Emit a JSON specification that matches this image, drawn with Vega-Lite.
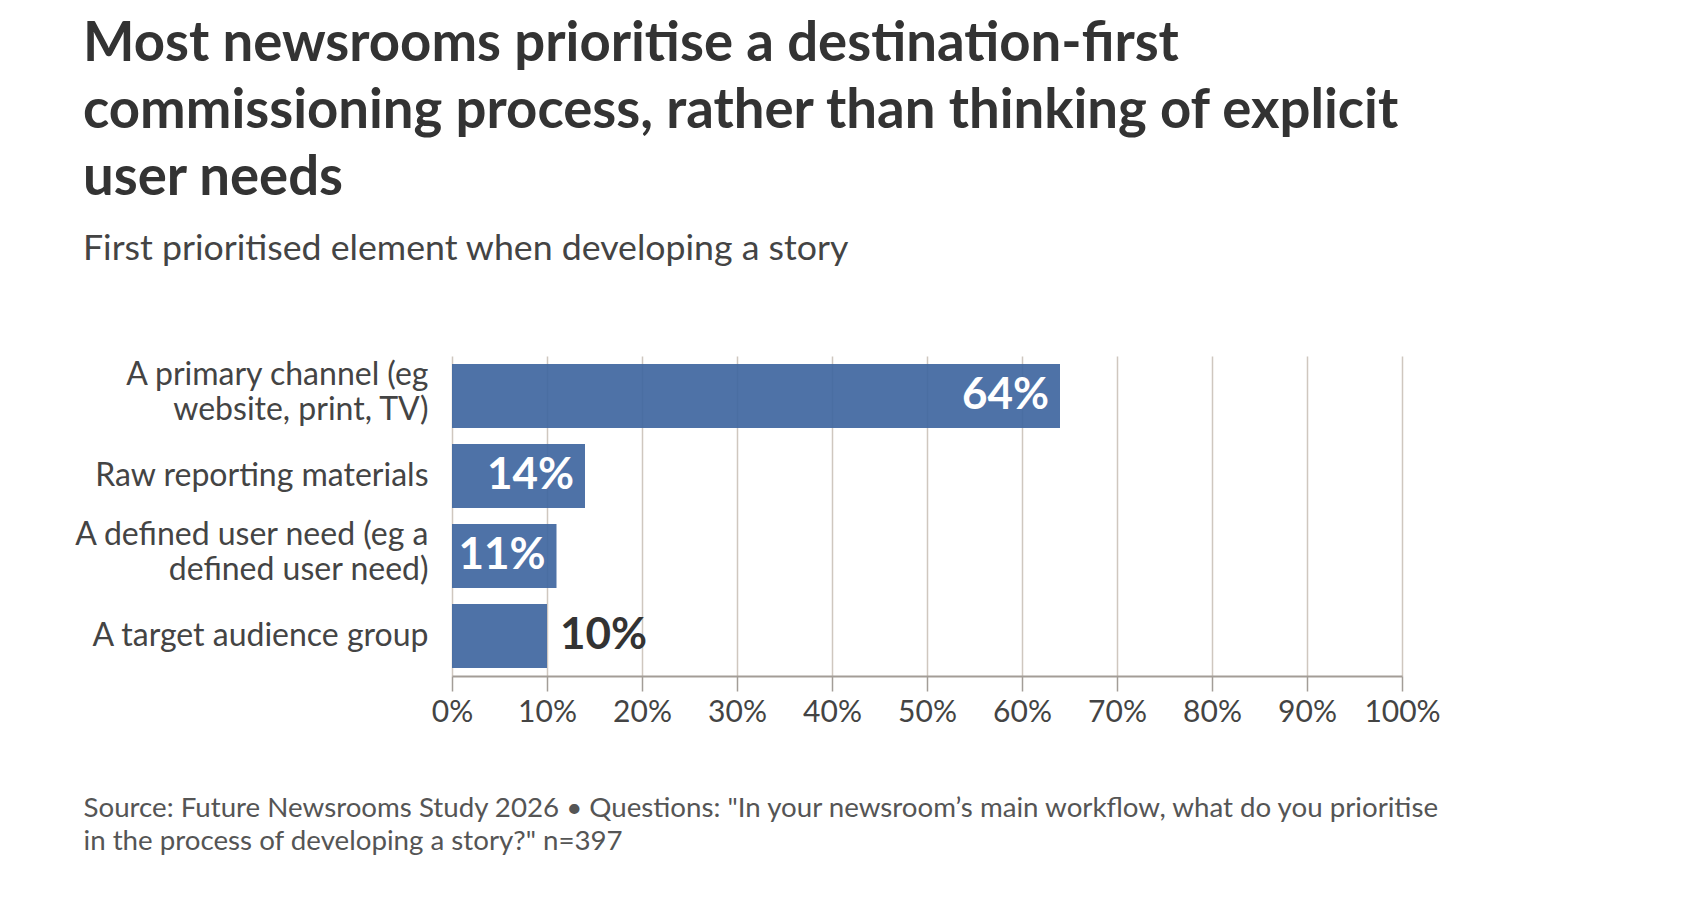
{
  "$schema": "https://vega.github.io/schema/vega-lite/v6.json",
  "width": 950,
  "height": 320,
  "autosize": {"type": "none"},
  "padding": {"left": 452, "top": 356, "right": 302, "bottom": 236},
  "background": "#ffffff",
  "config": {
    "font": "Lato",
    "view": {"stroke": null}
  },
  "title": {
    "text": ["Most newsrooms prioritise a destination-first", "commissioning process, rather than thinking of explicit", "user needs"],
    "subtitle": "First prioritised element when developing a story",
    "anchor": "start",
    "frame": "group",
    "dx": -369,
    "font": "Lato",
    "fontSize": 54.5,
    "fontWeight": "bold",
    "color": "#333333",
    "lineHeight": 67,
    "subtitleFont": "Lato",
    "subtitleFontSize": 35.7,
    "subtitleColor": "#444444",
    "subtitlePadding": 26,
    "offset": 88
  },
  "data": {
    "values": [
      {"element": "A primary channel (eg website, print, TV)", "share": 0.64},
      {"element": "Raw reporting materials", "share": 0.14},
      {"element": "A defined user need (eg a defined user need)", "share": 0.11},
      {"element": "A target audience group", "share": 0.10}
    ]
  },
  "encoding": {
    "y": {
      "field": "element",
      "type": "nominal",
      "sort": null,
      "scale": {"paddingInner": 0.2, "paddingOuter": 0.1},
      "axis": {
        "title": null,
        "domain": false,
        "ticks": false,
        "labelFont": "Lato",
        "labelFontSize": 32,
        "labelColor": "#444444",
        "labelPadding": 24,
        "labelLineHeight": 35,
        "labelOffset": {"expr": "indexof(datum.value, '(eg') >= 0 ? -21 : 0"},
        "labelLimit": 500,
        "labelExpr": "datum.value == 'A primary channel (eg website, print, TV)' ? ['A primary channel (eg', 'website, print, TV)'] : datum.value == 'A defined user need (eg a defined user need)' ? ['A defined user need (eg a', 'defined user need)'] : datum.value"
      }
    },
    "x": {
      "field": "share",
      "type": "quantitative",
      "scale": {"domain": [0, 1], "nice": false},
      "axis": {
        "values": [0, 0.1, 0.2, 0.3, 0.4, 0.5, 0.6, 0.7, 0.8, 0.9, 1],
        "format": ".0%",
        "labelFont": "Lato",
        "labelFontSize": 30,
        "labelColor": "#444444",
        "labelPadding": 6,
        "labelFlush": false,
        "grid": true,
        "gridColor": "#cfc7bf",
        "gridWidth": 1.5,
        "domainColor": "#a39d97",
        "domainWidth": 2,
        "tickColor": "#a39d97",
        "tickWidth": 1.5,
        "tickSize": 15,
        "title": ["Source: Future Newsrooms Study 2026 • Questions: \"In your newsroom’s main workflow, what do you prioritise", "in the process of developing a story?\" n=397"],
        "titleFont": "Lato",
        "titleFontSize": 27.7,
        "titleFontWeight": "normal",
        "titleColor": "#555555",
        "titleAlign": "left",
        "titleAnchor": "start",
        "titleBaseline": "alphabetic",
        "titleX": -369,
        "titleY": 140,
        "titleLineHeight": 33
      }
    }
  },
  "layer": [
    {
      "mark": {"type": "bar", "color": "#3f66a0", "opacity": 0.92}
    },
    {
      "transform": [{"filter": "datum.share >= 0.11"}],
      "mark": {"type": "text", "align": "right", "baseline": "middle", "dx": -11, "font": "Lato", "fontSize": 44, "fontWeight": "bold", "color": "#ffffff"},
      "encoding": {"text": {"field": "share", "type": "quantitative", "format": ".0%"}}
    },
    {
      "transform": [{"filter": "datum.share < 0.11"}],
      "mark": {"type": "text", "align": "left", "baseline": "middle", "dx": 13, "font": "Lato", "fontSize": 44, "fontWeight": "bold", "color": "#333333"},
      "encoding": {"text": {"field": "share", "type": "quantitative", "format": ".0%"}}
    }
  ]
}
